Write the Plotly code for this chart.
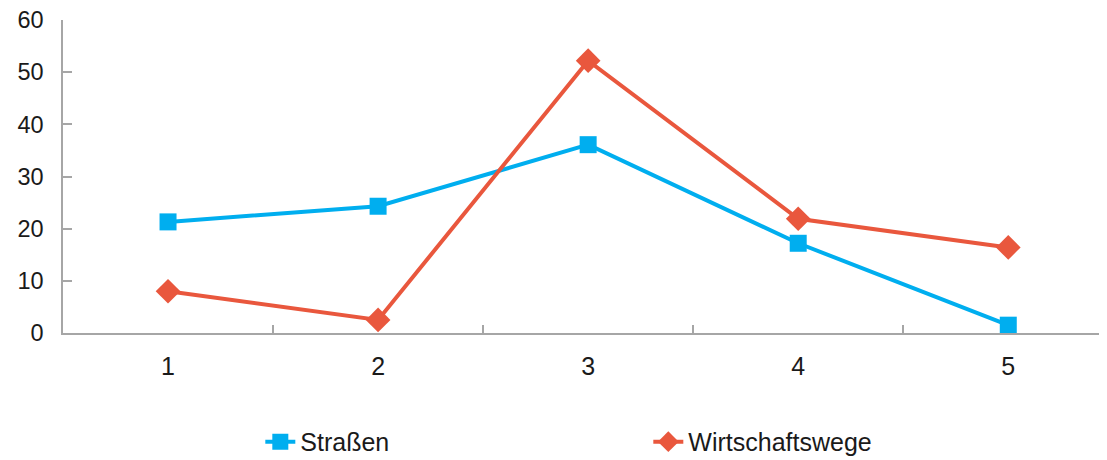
import plotly.graph_objects as go

categories = [1, 2, 3, 4, 5]
strassen = [21.3, 24.3, 36.1, 17.2, 1.5]
wirtschaftswege = [8.0, 2.5, 52.2, 21.9, 16.4]
y_ticks = [0, 10, 20, 30, 40, 50, 60]

BLUE = "#00AEEF"
RED = "#E9573D"
FONT = "Liberation Sans, Arial, sans-serif"

fig = go.Figure()
fig.add_trace(go.Scatter(
    x=categories, y=strassen, name="Straßen", mode="lines+markers",
    line=dict(color=BLUE, width=4),
    marker=dict(symbol="square", size=17, color=BLUE),
))
fig.add_trace(go.Scatter(
    x=categories, y=wirtschaftswege, name="Wirtschaftswege", mode="lines+markers",
    line=dict(color=RED, width=4),
    marker=dict(symbol="diamond", size=19, color=RED),
))

# page body has an 8px default margin, so the figure is sized to end at the window edge
fig.update_layout(
    width=1099, height=452,
    margin=dict(l=55, r=0, t=12, b=127, autoexpand=False),
    paper_bgcolor="white", plot_bgcolor="white",
    font=dict(family=FONT, size=25, color="#1a1a1a"),
    showlegend=True,
    legend=dict(
        orientation="h", x=0.189, xanchor="left", y=-0.348, yanchor="middle",
        font=dict(size=25), entrywidth=343, itemwidth=30,
    ),
)
fig.update_xaxes(
    range=[0.5, 5.47], tickmode="array", tickvals=categories,
    ticktext=[str(c) for c in categories],
    showgrid=False, zeroline=False, showline=True, linecolor="#a6a6a6", linewidth=1.5,
    ticks="", ticklabelstandoff=10, automargin=False,
    minor=dict(tickmode="array", tickvals=[1.5, 2.5, 3.5, 4.5], ticks="inside",
               ticklen=8, tickcolor="#a6a6a6", tickwidth=1.5, showgrid=False),
)
fig.update_yaxes(
    range=[0, 60], tickmode="array", tickvals=y_ticks,
    showgrid=False, zeroline=False, showline=True, linecolor="#a6a6a6", linewidth=1.5,
    ticks="inside", ticklen=9, tickcolor="#a6a6a6", tickwidth=1.5,
    tickfont=dict(size=23.5),
    ticklabelstandoff=13, ticklabeloverflow="allow", automargin=False,
)

fig.write_html("out.html")
